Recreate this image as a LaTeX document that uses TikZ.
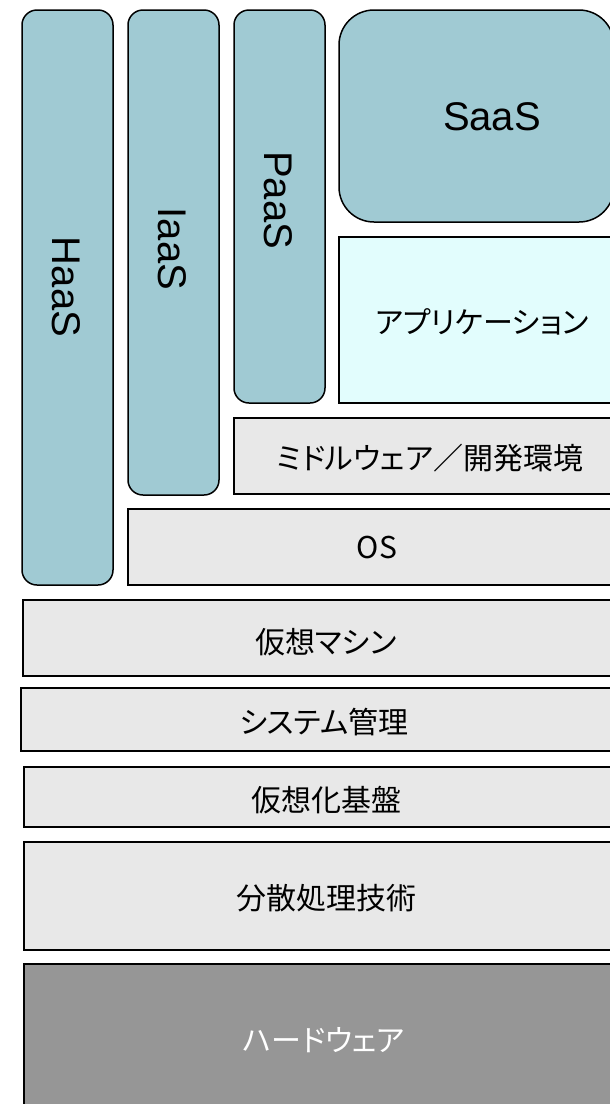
\documentclass[tikz,border=0pt]{standalone}
\usepackage{fontspec}
\setmainfont{Liberation Sans}
\newfontfamily\jpfont[RawFeature=+palt]{Noto Sans CJK JP}
\definecolor{svcblue}{HTML}{A0CAD3}
\definecolor{layergray}{HTML}{E8E8E8}
\definecolor{hwgray}{HTML}{969696}
\definecolor{appcyan}{HTML}{E2FDFD}
\begin{document}
\begin{tikzpicture}[x=1pt,y=-1pt,
  svc/.style={draw=black,line width=1.5pt,fill=svcblue,inner sep=0pt,rounded corners=15pt},
  layer/.style={draw=black,line width=1.6pt,fill=layergray,inner sep=0pt},
  svclabel/.style={font=\fontsize{40}{40}\selectfont,inner sep=0pt},
  jplabel/.style={font=\jpfont\fontsize{30}{30}\selectfont,inner sep=0pt}]
\clip (0,0) rectangle (610,1104);
\fill[white] (0,0) rectangle (610,1104);
% service columns
\node[svc,minimum width=91pt,minimum height=575pt] (haas) at (67.5,297.5) {};
\node[svc,minimum width=91pt,minimum height=485pt] (iaas) at (173.5,252.5) {};
\node[svc,minimum width=91pt,minimum height=393pt] (paas) at (279.5,206.5) {};
\node[svc,rounded corners=35pt,minimum width=275pt,minimum height=212pt] (saas) at (476.5,116) {};
% layers
\node[layer,fill=appcyan,minimum width=289pt,minimum height=166pt] (app) at (483.5,320) {};
\node[layer,minimum width=394pt,minimum height=76pt] (mw) at (431,456) {};
\node[layer,minimum width=500pt,minimum height=76pt] (os) at (378,547) {};
\node[layer,minimum width=605pt,minimum height=76pt] (vm) at (325.5,638) {};
\node[layer,minimum width=607pt,minimum height=63pt] (sys) at (324.5,719.5) {};
\node[layer,minimum width=604pt,minimum height=60pt] (virt) at (326,797) {};
\node[layer,minimum width=604pt,minimum height=108pt] (dist) at (326,896) {};
\node[layer,fill=hwgray,minimum width=604pt,minimum height=166pt] (hw) at (326,1047) {};
% labels
\node[svclabel,rotate=-90] (haasT) at (66,287) {HaaS};
\node[svclabel,rotate=-90] (iaasT) at (172,249) {IaaS};
\node[svclabel,rotate=-90] (paasT) at (278,200) {PaaS};
\node[svclabel] (saasT) at (492,117) {SaaS};
\node[jplabel] (appT) at (482,322) {アプリケーション};
\node[jplabel] (mwT) at (430,458) {ミドルウェア／開発環境};
\node[jplabel] (osT) at (377,547) {OS};
\node[jplabel] (vmT) at (326,642) {仮想マシン};
\node[jplabel] (sysT) at (324,722) {システム管理};
\node[jplabel] (virtT) at (326,800) {仮想化基盤};
\node[jplabel] (distT) at (326,898) {分散処理技術};
\node[jplabel,text=white] (hwT) at (324,1040) {ハードウェア};
\end{tikzpicture}
\end{document}
